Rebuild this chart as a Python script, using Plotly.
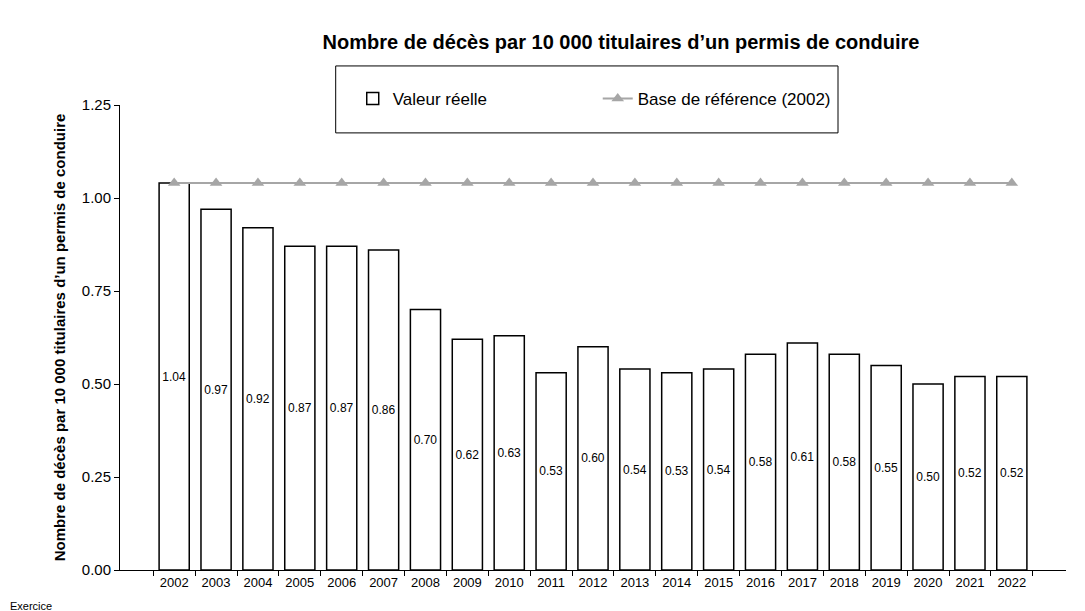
import plotly.graph_objects as go

years = [str(y) for y in range(2002, 2023)]
values = [1.04, 0.97, 0.92, 0.87, 0.87, 0.86, 0.70, 0.62, 0.63, 0.53, 0.60,
          0.54, 0.53, 0.54, 0.58, 0.61, 0.58, 0.55, 0.50, 0.52, 0.52]
baseline = [1.04] * len(years)

fig = go.Figure()
fig.add_trace(go.Bar(
    x=years, y=values, name="Valeur réelle",
    marker=dict(color="white", line=dict(color="black", width=1.5)),
    text=[f"{v:.2f}" for v in values], textposition="inside",
    insidetextanchor="middle", textangle=0,
    textfont=dict(size=12, color="black", family="Liberation Sans, Arial"),
))
fig.add_trace(go.Scatter(
    x=years, y=baseline, name="Base de référence (2002)", mode="lines+markers",
    line=dict(color="#A6A6A6", width=2),
    marker=dict(symbol="triangle-up", size=11, color="#A6A6A6"),
))

fig.update_layout(
    width=1085, height=611, paper_bgcolor="white", plot_bgcolor="white",
    font=dict(family="Liberation Sans, Arial", size=14, color="black"),
    title=dict(text="<b>Nombre de décès par 10 000 titulaires d’un permis de conduire</b>",
               x=0.565, xanchor="center", y=0.955, font=dict(size=20)),
    margin=dict(l=112, r=27, t=97, b=49, autoexpand=False),
    bargap=0.28,
    showlegend=True,
    legend=dict(orientation="h", x=0.505, xanchor="center", y=1.013, yanchor="middle",
                borderwidth=0, bgcolor="rgba(0,0,0,0)",
                font=dict(size=17), entrywidth=200, itemwidth=30),
    shapes=[dict(type="rect", xref="paper", yref="paper", x0=0.228, x1=0.759,
                 y0=0.940, y1=1.084, line=dict(color="black", width=1),
                 fillcolor="white", layer="below")],
    xaxis=dict(showline=True, linecolor="black", linewidth=1, ticks="outside",
               tickson="boundaries", ticklen=5, tickcolor="black",
               tickfont=dict(size=13), showgrid=False, automargin=False),
    yaxis=dict(range=[0, 1.25], dtick=0.25, tickformat=".2f", showline=True,
               linecolor="black", linewidth=1, ticks="outside", ticklen=5,
               tickcolor="black", showgrid=False, zeroline=False,
               tickfont=dict(size=15), automargin=False,
               title=dict(text="<b>Nombre de décès par 10 000 titulaires d’un permis de conduire</b>",
                          font=dict(size=15), standoff=12)),
    annotations=[dict(text="Exercice", x=0, xref="paper", xshift=-112, y=0, yref="paper",
                      yshift=-28, xanchor="left", yanchor="top", showarrow=False,
                      font=dict(size=11))],
)
fig.write_html("out.html")
